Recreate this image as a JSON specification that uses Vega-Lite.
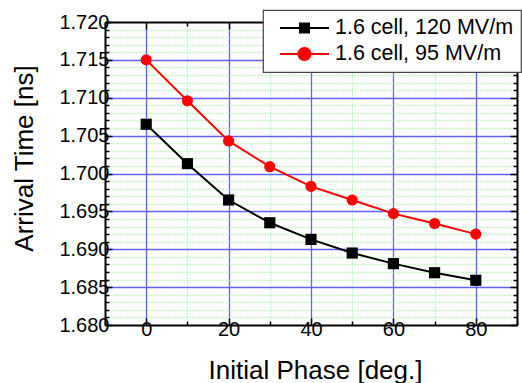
{
  "$schema": "https://vega.github.io/schema/vega-lite/v6.json",
  "width": 412,
  "height": 303,
  "autosize": {"type": "none"},
  "padding": {"left": 105, "top": 22, "right": 5, "bottom": 58},
  "background": "white",
  "config": {
    "font": "Liberation Sans",
    "view": {"stroke": null},
    "axis": {
      "labelFont": "Liberation Sans",
      "labelFontSize": 20,
      "labelColor": "black",
      "titleFont": "Liberation Sans",
      "titleFontSize": 26,
      "titleFontWeight": "normal",
      "titleColor": "black",
      "domainColor": "black",
      "domainWidth": 2,
      "tickColor": "black",
      "tickWidth": 1.5,
      "gridWidth": 1.3,
      "labelFlush": false,
      "labelOverlap": false
    },
    "legend": {
      "labelFont": "Liberation Sans",
      "labelFontSize": 21.5,
      "labelColor": "black",
      "labelLimit": 400,
      "strokeColor": "#444444",
      "strokeWidth": 1.2,
      "fillColor": "white",
      "padding": 7,
      "symbolSize": 400,
      "labelOffset": 43,
      "rowPadding": 4,
      "cornerRadius": 0
    }
  },
  "data": {
    "values": [
      {"phase": 0, "time": 1.7065, "series": "1.6 cell, 120 MV/m"},
      {"phase": 10, "time": 1.7013, "series": "1.6 cell, 120 MV/m"},
      {"phase": 20, "time": 1.6965, "series": "1.6 cell, 120 MV/m"},
      {"phase": 30, "time": 1.6935, "series": "1.6 cell, 120 MV/m"},
      {"phase": 40, "time": 1.6913, "series": "1.6 cell, 120 MV/m"},
      {"phase": 50, "time": 1.6895, "series": "1.6 cell, 120 MV/m"},
      {"phase": 60, "time": 1.6881, "series": "1.6 cell, 120 MV/m"},
      {"phase": 70, "time": 1.6869, "series": "1.6 cell, 120 MV/m"},
      {"phase": 80, "time": 1.6859, "series": "1.6 cell, 120 MV/m"},
      {"phase": 0, "time": 1.7150, "series": "1.6 cell, 95 MV/m"},
      {"phase": 10, "time": 1.7096, "series": "1.6 cell, 95 MV/m"},
      {"phase": 20, "time": 1.7043, "series": "1.6 cell, 95 MV/m"},
      {"phase": 30, "time": 1.7009, "series": "1.6 cell, 95 MV/m"},
      {"phase": 40, "time": 1.6983, "series": "1.6 cell, 95 MV/m"},
      {"phase": 50, "time": 1.6965, "series": "1.6 cell, 95 MV/m"},
      {"phase": 60, "time": 1.6947, "series": "1.6 cell, 95 MV/m"},
      {"phase": 70, "time": 1.6934, "series": "1.6 cell, 95 MV/m"},
      {"phase": 80, "time": 1.6920, "series": "1.6 cell, 95 MV/m"}
    ]
  },
  "layer": [
    {
      "mark": {"type": "line", "strokeWidth": 2, "clip": true},
      "encoding": {
        "x": {
          "field": "phase", "type": "quantitative",
          "scale": {"domain": [-10, 90], "nice": false, "zero": false},
          "axis": {
            "orient": "bottom",
            "title": "Initial Phase [deg.]",
            "values": [-10, 0, 10, 20, 30, 40, 50, 60, 70, 80, 90],
            "labelExpr": "datum.value % 20 == 0 ? format(datum.value, 'd') : ''",
            "tickSize": {"condition": {"test": "datum.value % 20 == 0", "value": -7}, "value": -4},
            "labelPadding": 1,
            "grid": true,
            "gridColor": {"condition": {"test": "datum.value % 20 == 0", "value": "#6060ff"}, "value": "#8ef08e"},
            "gridDash": {"condition": {"test": "datum.value % 20 == 0", "value": []}, "value": [1, 2]},
            "gridOpacity": {"condition": {"test": "datum.value < -9 || datum.value > 89", "value": 0}, "value": 1},
            "titleY": 53,
            "titleX": 210,
            "titleBaseline": "alphabetic"
          }
        },
        "y": {
          "field": "time", "type": "quantitative",
          "scale": {"domain": [1.68, 1.72], "nice": false, "zero": false},
          "axis": {
            "orient": "left",
            "title": "Arrival Time [ns]",
            "values": [1.680, 1.681, 1.682, 1.683, 1.684, 1.685, 1.686, 1.687, 1.688, 1.689, 1.690, 1.691, 1.692, 1.693, 1.694, 1.695, 1.696, 1.697, 1.698, 1.699, 1.700, 1.701, 1.702, 1.703, 1.704, 1.705, 1.706, 1.707, 1.708, 1.709, 1.710, 1.711, 1.712, 1.713, 1.714, 1.715, 1.716, 1.717, 1.718, 1.719, 1.720],
            "labelExpr": "round(datum.value * 1000) % 5 == 0 ? format(datum.value, '.3f') : ''",
            "tickSize": {"condition": {"test": "round(datum.value * 1000) % 5 == 0", "value": -7}, "value": -4},
            "labelPadding": 3,
            "grid": true,
            "gridColor": {"condition": {"test": "round(datum.value * 1000) % 5 == 0", "value": "#6060ff"}, "value": "#8ef08e"},
            "gridDash": {"condition": {"test": "round(datum.value * 1000) % 5 == 0", "value": []}, "value": [1, 2]},
            "gridOpacity": {"condition": {"test": "datum.value < 1.6805 || datum.value > 1.7195", "value": 0}, "value": 1},
            "titleX": -73,
            "titleY": 136,
            "titleBaseline": "alphabetic"
          }
        },
        "color": {
          "field": "series", "type": "nominal",
          "scale": {"range": ["#000000", "#ff0000"]},
          "legend": null
        }
      }
    },
    {
      "transform": [{"filter": "datum.series == '1.6 cell, 120 MV/m'"}],
      "mark": {"type": "point", "shape": "square", "filled": true, "opacity": 1, "size": 125},
      "encoding": {
        "x": {
          "field": "phase", "type": "quantitative",
          "axis": {
            "orient": "top",
            "title": null,
            "values": [-10, 0, 10, 20, 30, 40, 50, 60, 70, 80, 90],
            "labels": false,
            "grid": false,
            "tickSize": {"condition": {"test": "datum.value % 20 == 0", "value": -7}, "value": -4}
          }
        },
        "y": {
          "field": "time", "type": "quantitative",
          "axis": {
            "orient": "right",
            "title": null,
            "values": [1.680, 1.681, 1.682, 1.683, 1.684, 1.685, 1.686, 1.687, 1.688, 1.689, 1.690, 1.691, 1.692, 1.693, 1.694, 1.695, 1.696, 1.697, 1.698, 1.699, 1.700, 1.701, 1.702, 1.703, 1.704, 1.705, 1.706, 1.707, 1.708, 1.709, 1.710, 1.711, 1.712, 1.713, 1.714, 1.715, 1.716, 1.717, 1.718, 1.719, 1.720],
            "labels": false,
            "grid": false,
            "tickSize": {"condition": {"test": "round(datum.value * 1000) % 5 == 0", "value": -7}, "value": -4}
          }
        },
        "color": {"field": "series", "type": "nominal", "legend": null}
      }
    },
    {
      "transform": [{"filter": "datum.series == '1.6 cell, 95 MV/m'"}],
      "mark": {"type": "point", "shape": "circle", "filled": true, "opacity": 1, "size": 125},
      "encoding": {
        "x": {"field": "phase", "type": "quantitative", "axis": null},
        "y": {"field": "time", "type": "quantitative", "axis": null},
        "color": {"field": "series", "type": "nominal", "legend": null}
      }
    },
    {
      "transform": [{"filter": "datum.phase > 1000"}],
      "mark": {"type": "point", "filled": true, "opacity": 1, "size": 400},
      "encoding": {
        "fill": {
          "field": "series", "type": "nominal",
          "scale": {"domain": ["1.6 cell, 120 MV/m", "1.6 cell, 95 MV/m"], "range": ["#000000", "#ff0000"]},
          "legend": {"title": null, "orient": "none", "legendX": 158, "legendY": -12}
        },
        "shape": {
          "field": "series", "type": "nominal",
          "scale": {
            "domain": ["1.6 cell, 120 MV/m", "1.6 cell, 95 MV/m"],
            "range": [
              "M-0.1,-0.1H4.8V0.1H-0.1ZM1.8,-0.55H2.9V0.55H1.8Z",
              "M-0.1,-0.1H4.8V0.1H-0.1ZM1.65,0A0.7,0.7 0 0,1 3.05,0A0.7,0.7 0 0,1 1.65,0Z"
            ]
          },
          "legend": {"title": null, "orient": "none", "legendX": 158, "legendY": -12}
        }
      }
    }
  ]
}
